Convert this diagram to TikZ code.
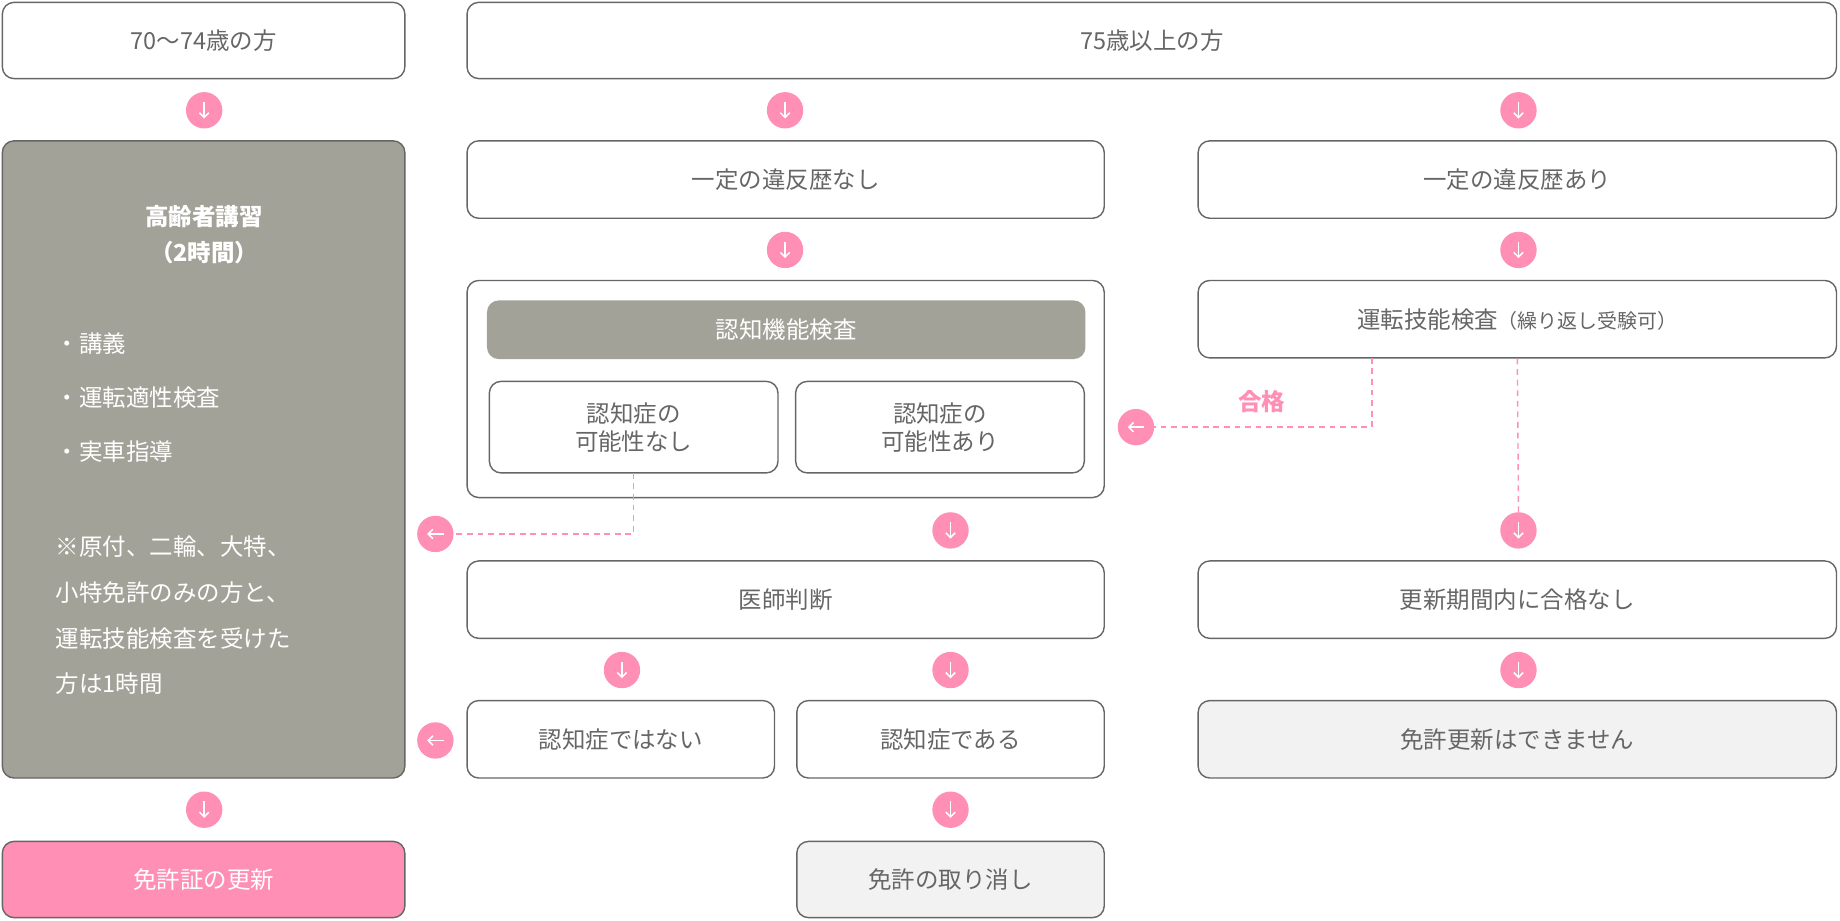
\documentclass[tikz,border=0pt]{standalone}
\usepackage{fontspec}
\setmainfont{Noto Sans CJK JP}
\usetikzlibrary{arrows.meta,calc}
\definecolor{txtgray}{HTML}{666666}
\definecolor{olive}{HTML}{A3A298}
\definecolor{pinkc}{HTML}{FF8FB4}
\definecolor{light}{HTML}{F2F2F2}
\tikzset{
  box/.style={draw=txtgray,line width=1.2pt,rounded corners=10pt,text=txtgray,font=\fontsize{20}{24}\selectfont,inner sep=0pt},
  dot/.style={circle,fill=pinkc,minimum size=31pt,inner sep=0pt},
  arr/.style={white,line width=1.3pt,-{Straight Barb[length=4pt,width=8pt]}},
  pinkdash/.style={pinkc,line width=1.2pt,dash pattern=on 5pt off 4pt},
}
% box: name, x1, y1, x2, y2, style, text
\newcommand{\flowbox}[7]{\node[box,#6,minimum width={(#4-#2)*1pt},minimum height={(#5-#3)*1pt},align=center] (#1) at ({(#2+#4)/2},{(#3+#5)/2}) {#7};}
\newcommand{\downdot}[3]{\node[dot] (#1) at (#2,#3) {};
  \draw[arr] ([yshift=7pt]#1.center) -- ([yshift=-7pt]#1.center);}
\newcommand{\leftdot}[3]{\node[dot] (#1) at (#2,#3) {};
  \draw[arr] ([xshift=7pt]#1.center) -- ([xshift=-7pt]#1.center);}
\begin{document}
\begin{tikzpicture}[x=1pt,y=-1pt]
\useasboundingbox (0,0) rectangle (1568,784);

% ---------- top row ----------
\flowbox{age70}{2}{2}{345}{67}{}{70〜74歳の方}
\flowbox{age75}{398}{2}{1565}{67}{}{75歳以上の方}
\downdot{d1}{174}{94}
\downdot{d2}{669}{94}
\downdot{d3}{1294}{94}

% ---------- left column ----------
\flowbox{lecture}{2}{120}{345}{663}{fill=olive}{}
\node[white,font=\fontsize{20}{24}\selectfont\bfseries,align=center] (lecttitle) at (174,200) {高齢者講習\\[6pt]（2時間）};
\node[white,font=\fontsize{20}{24}\selectfont,align=left,anchor=north west] (lectitems) at (44,280)
  {・講義\\[22pt]・運転適性検査\\[22pt]・実車指導};
\node[white,font=\fontsize{20}{24}\selectfont,align=left,anchor=north west] (lectnote) at (44,453)
  {※原付、二輪、大特、\\[15pt]小特免許のみの方と、\\[15pt]運転技能検査を受けた\\[15pt]方は1時間};
\downdot{d4}{174}{690}
\flowbox{renew}{2}{717}{345}{782}{fill=pinkc,text=white}{免許証の更新}

% ---------- middle column ----------
\flowbox{noviol}{398}{120}{941}{186}{}{一定の違反歴なし}
\downdot{d5}{669}{213}
\flowbox{cogbox}{398}{239}{941}{424}{}{}
\flowbox{cogtest}{415}{256}{925}{306}{draw=none,fill=olive,text=white}{認知機能検査}
\flowbox{cogno}{417}{325}{663}{403}{}{認知症の\\可能性なし}
\flowbox{cogyes}{678}{325}{924}{403}{}{認知症の\\可能性あり}
\downdot{d6}{810}{452}
\flowbox{doctor}{398}{478}{941}{544}{}{医師判断}
\downdot{d7}{530}{571}
\downdot{d8}{810}{571}
\flowbox{notdem}{398}{597}{660}{663}{}{認知症ではない}
\flowbox{isdem}{679}{597}{941}{663}{}{認知症である}
\downdot{d9}{810}{690}
\flowbox{revoke}{679}{717}{941}{782}{fill=light}{免許の取り消し}
\leftdot{l1}{371}{455}
\leftdot{l2}{371}{631}

% ---------- right column ----------
\flowbox{viol}{1021}{120}{1565}{186}{}{一定の違反歴あり}
\downdot{d10}{1294}{213}
\flowbox{drivetest}{1021}{239}{1565}{305}{}{運転技能検査{\fontsize{17}{20}\selectfont（繰り返し受験可）}}
\leftdot{l3}{968}{364}
\node[pinkc,font=\fontsize{20}{24}\selectfont\bfseries] (passlbl) at (1075,342) {合格};
\downdot{d11}{1294}{452}
\flowbox{nopass}{1021}{478}{1565}{544}{}{更新期間内に合格なし}
\downdot{d12}{1294}{571}
\flowbox{cannot}{1021}{597}{1565}{663}{fill=light}{免許更新はできません}

% ---------- dashed connectors ----------
\coordinate (passstart) at (1169,305);
\coordinate (cogstart) at (540,403);
\draw[pinkdash] (passstart) |- (l3.east);
\draw[pinkdash] (drivetest.south) -- (d11.north);
\draw[pinkdash] (cogstart) |- (l1.east);

\end{tikzpicture}
\end{document}
